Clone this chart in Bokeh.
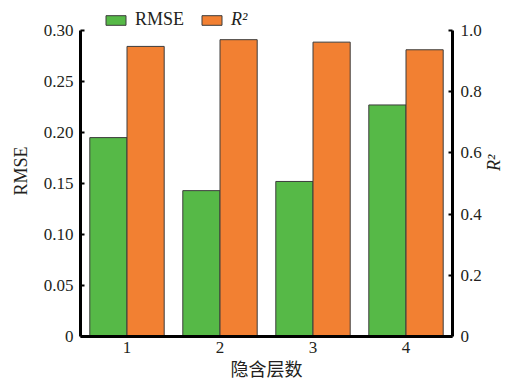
import math
from bokeh.plotting import figure
from bokeh.models import (ColumnDataSource, LinearAxis, Range1d, FixedTicker,
                          Legend, LegendItem)
from bokeh.transform import dodge
from bokeh.embed import file_html
from bokeh.resources import INLINE

layers = [1, 2, 3, 4]
rmse = [0.195, 0.143, 0.152, 0.227]
r2 = [0.948, 0.970, 0.962, 0.937]
left_ticks = [0, 0.05, 0.10, 0.15, 0.20, 0.25, 0.30]
left_labels = ["0", "0.05", "0.10", "0.15", "0.20", "0.25", "0.30"]
right_ticks = [0, 0.2, 0.4, 0.6, 0.8, 1.0]
right_labels = ["0", "0.2", "0.4", "0.6", "0.8", "1.0"]

GREEN = "#56b947"
ORANGE = "#f28032"
AXC = "black"
TXT = "#231f20"
SERIF = "Liberation Serif"

# the frame reaches a little above the 0.30 / 1.0 line so the legend (drawn
# inside the frame) is not clipped; axis lines are bounded to the data ranges
TOP = 5
EXT = (336 - TOP) / 306
src = ColumnDataSource(dict(x=layers, rmse=rmse, r2=r2))

p = figure(width=516, height=385, output_backend="svg", toolbar_location=None,
           x_range=Range1d(0.5, 4.5), y_range=Range1d(0, 0.30 * EXT),
           min_border_left=80, min_border_right=58, min_border_top=TOP,
           min_border_bottom=49, outline_line_color=None)
p.extra_y_ranges = {"r2": Range1d(0, 1.0 * EXT)}
p.xgrid.visible = False
p.ygrid.visible = False

g1 = p.vbar(x=dodge("x", -0.2, range=p.x_range), top="rmse", width=0.4, source=src,
            fill_color=GREEN, line_color="#3c3c3c", line_width=1)
g2 = p.vbar(x=dodge("x", 0.2, range=p.x_range), top="r2", width=0.4, source=src,
            y_range_name="r2", fill_color=ORANGE, line_color="#3c3c3c", line_width=1)

def style(ax):
    ax.axis_line_color = AXC
    ax.axis_line_width = 3
    ax.major_tick_line_color = AXC
    ax.major_tick_line_width = 2
    ax.major_tick_in = 4
    ax.major_tick_out = 0
    ax.minor_tick_line_color = None
    ax.major_label_text_font = SERIF
    ax.major_label_text_font_size = "17px"
    ax.major_label_text_color = TXT
    ax.axis_label_text_font = SERIF
    ax.axis_label_text_font_size = "18px"
    ax.axis_label_text_font_style = "normal"
    ax.axis_label_text_color = TXT

yl = p.yaxis[0]
style(yl)
yl.bounds = (0, 0.30)
yl.ticker = FixedTicker(ticks=left_ticks)
yl.major_label_overrides = {t: l for t, l in zip(left_ticks, left_labels)}
yl.axis_label = "RMSE"
yl.major_label_standoff = 7
yl.axis_label_standoff = 10

yr = LinearAxis(y_range_name="r2")
style(yr)
yr.bounds = (0, 1.0)
yr.ticker = FixedTicker(ticks=right_ticks)
yr.major_label_overrides = {t: l for t, l in zip(right_ticks, right_labels)}
yr.major_label_standoff = 8
yr.axis_label = "R²"
yr.axis_label_text_font_style = "italic"
yr.axis_label_standoff = 9
try:
    yr.axis_label_orientation = math.pi / 2
except Exception:
    pass
p.add_layout(yr, "right")

xa = p.xaxis[0]
style(xa)
xa.ticker = FixedTicker(ticks=layers)
xa.major_tick_line_color = None
xa.axis_label = "隐含层数"
xa.axis_label_text_font = "Noto Sans CJK SC"
xa.axis_label_text_font_size = "18px"
xa.major_label_standoff = 5
xa.axis_label_standoff = -1

def mk_legend(item, x, italic):
    lg = Legend(items=[item], location=(x, 306), orientation="horizontal",
                padding=0, margin=0, border_line_alpha=0, background_fill_alpha=0,
                glyph_width=25, glyph_height=12, label_standoff=7,
                label_text_font=SERIF, label_text_font_size="18px",
                label_text_color=TXT,
                label_text_font_style="italic" if italic else "normal")
    p.add_layout(lg, "center")

mk_legend(LegendItem(label="RMSE", renderers=[g1]), 23, False)
mk_legend(LegendItem(label="R²", renderers=[g2]), 119, True)

open("out.html", "w").write(file_html(p, INLINE))
